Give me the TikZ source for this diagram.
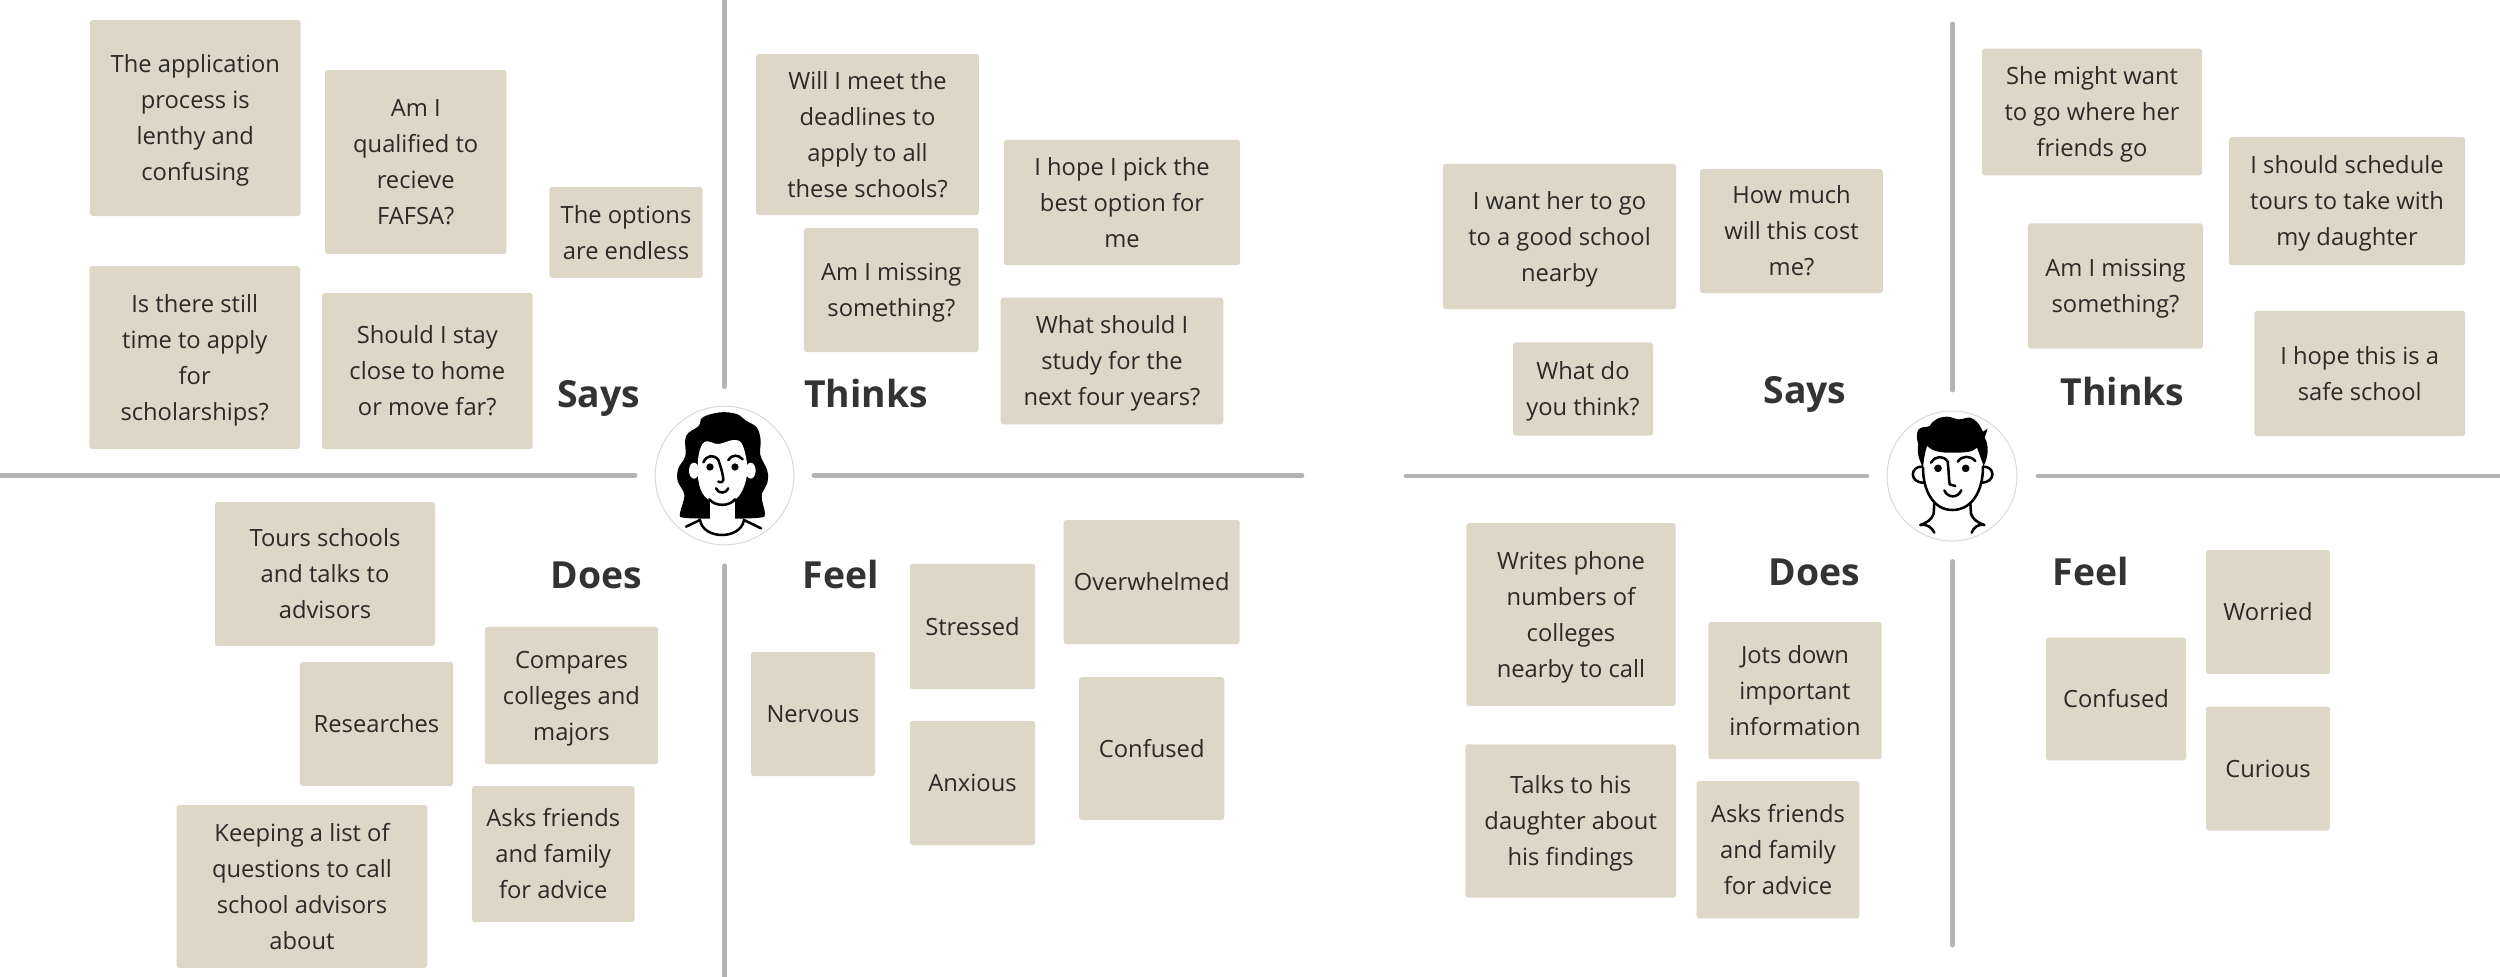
\documentclass[tikz,border=0pt]{standalone}
\usepackage{fontspec}
\setmainfont{Open Sans}
\definecolor{cardfill}{HTML}{DDD7C7}
\definecolor{cardtext}{HTML}{2B2A26}
\definecolor{axisgray}{HTML}{B4B4B4}
\definecolor{headtext}{HTML}{333333}
\newcommand{\firstline}{\rule{0pt}{21pt}}
\tikzset{every picture/.style={line width=0.75pt}}
\tikzset{
  card/.style={fill=cardfill,rounded corners=2pt,inner sep=0pt,align=center,text=cardtext,font=\fontsize{17.8}{27}\selectfont,execute at begin node=\firstline,execute at end node=\strut},
  heading/.style={anchor=base west,inner sep=0pt,text=headtext,font=\fontsize{28}{34}\selectfont\bfseries},
  axisline/.style={line width=3.6pt,line cap=round,color=axisgray},
  portrait/.style={circle,draw=black!15,fill=white,minimum size=#1,inner sep=0pt},
  inkline/.style={line width=1.9pt,line cap=round,line join=round,color=black}
}
\begin{document}
\begin{tikzpicture}[x=0.75pt,y=0.75pt,yscale=-1,xscale=1]
\useasboundingbox (0,0) rectangle (2500,976);

% axes, first board
\draw [axisline] (724.3,-5) -- (724.3,386.7) ;
\draw [axisline] (724.3,565.7) -- (724.3,981) ;
\draw [axisline] (-5,475.7) -- (635,475.7) ;
\draw [axisline] (814,475.7) -- (1302,475.7) ;
% axes, second board
\draw [axisline] (1952.5,24) -- (1952.5,390) ;
\draw [axisline] (1952.5,561.5) -- (1952.5,945) ;
\draw [axisline] (1406,476) -- (1867,476) ;
\draw [axisline] (2038,476) -- (2505,476) ;

% says, first board
\draw (195.3,118) node [card,minimum width=158pt,minimum height=147pt] (appProcess) {\firstline The application\\process is\\lenthy and\\confusing};
\draw (415.7,162) node [card,minimum width=136pt,minimum height=138pt] (amQualified) {\firstline Am I\\qualified to\\recieve\\FAFSA?};
\draw (626,232.5) node [card,minimum width=115pt,minimum height=68pt] (optionsEndless) {\firstline The options\\are endless};
\draw (194.7,357.5) node [card,minimum width=158pt,minimum height=137pt] (stillTime) {\firstline Is there still\\time to apply\\for\\scholarships?};
\draw (427.3,371) node [card,minimum width=158pt,minimum height=117pt] (stayClose) {\firstline Should I stay\\close to home\\or move far?};
\draw (556.6,407) node [heading] (saysA) {Says};

% thinks, first board
\draw (867.5,134.5) node [card,minimum width=167pt,minimum height=121pt] (meetDeadlines) {\firstline Will I meet the\\deadlines to\\apply to all\\these schools?};
\draw (1122,202.5) node [card,minimum width=177pt,minimum height=94pt] (pickBest) {\firstline I hope I pick the\\best option for\\me};
\draw (891.3,290) node [card,minimum width=131pt,minimum height=93pt] (missingA) {\firstline Am I missing\\something?};
\draw (1112,361) node [card,minimum width=167pt,minimum height=95pt] (whatStudy) {\firstline What should I\\study for the\\next four years?};
\draw (803.6,407) node [heading] (thinksA) {Thinks};

% does, first board
\draw (325,574) node [card,minimum width=165pt,minimum height=108pt] (toursSchools) {\firstline Tours schools\\and talks to\\advisors};
\draw (571.5,695.5) node [card,minimum width=130pt,minimum height=103pt] (comparesColleges) {\firstline Compares\\colleges and\\majors};
\draw (376.5,724) node [card,minimum width=115pt,minimum height=93pt] (researches) {Researches};
\draw (553.3,854) node [card,minimum width=122pt,minimum height=102pt] (asksA) {\firstline Asks friends\\and family\\for advice};
\draw (302,886.5) node [card,minimum width=188pt,minimum height=122pt] (keepingList) {\firstline Keeping a list of\\questions to call\\school advisors\\about};
\draw (550,588) node [heading] (doesA) {Does};

% feel, first board
\draw (972.5,626.5) node [card,minimum width=94pt,minimum height=94pt] (stressed) {Stressed};
\draw (1151.7,582) node [card,minimum width=132pt,minimum height=93pt] (overwhelmed) {Overwhelmed};
\draw (813,714) node [card,minimum width=93pt,minimum height=93pt] (nervous) {Nervous};
\draw (972.5,783) node [card,minimum width=94pt,minimum height=93pt] (anxious) {Anxious};
\draw (1151.7,748.5) node [card,minimum width=109pt,minimum height=107pt] (confusedA) {Confused};
\draw (802,588) node [heading] (feelA) {Feel};

% says, second board
\draw (1559.5,236.5) node [card,minimum width=175pt,minimum height=109pt] (goodSchool) {\firstline I want her to go\\to a good school\\nearby};
\draw (1791.5,231) node [card,minimum width=137pt,minimum height=93pt] (howMuch) {\firstline How much\\will this cost\\me?};
\draw (1583,389) node [card,minimum width=105pt,minimum height=70pt] (whatThink) {\firstline What do\\you think?};
\draw (1763,403) node [heading] (saysB) {Says};

% thinks, second board
\draw (2092,112) node [card,minimum width=165pt,minimum height=95pt] (friendsGo) {\firstline She might want\\to go where her\\friends go};
\draw (2347,201) node [card,minimum width=177pt,minimum height=96pt] (scheduleTours) {\firstline I should schedule\\tours to take with\\my daughter};
\draw (2115.5,286) node [card,minimum width=131pt,minimum height=94pt] (missingB) {\firstline Am I missing\\something?};
\draw (2359.7,373.5) node [card,minimum width=158pt,minimum height=94pt] (safeSchool) {\firstline I hope this is a\\safe school};
\draw (2060,405) node [heading] (thinksB) {Thinks};

% does, second board
\draw (1571,614.5) node [card,minimum width=157pt,minimum height=137pt] (writesNumbers) {\firstline Writes phone\\numbers of\\colleges\\nearby to call};
\draw (1795,690.5) node [card,minimum width=130pt,minimum height=103pt] (jotsDown) {\firstline Jots down\\important\\information};
\draw (1570.7,821) node [card,minimum width=158pt,minimum height=115pt] (talksDaughter) {\firstline Talks to his\\daughter about\\his findings};
\draw (1778,849.8) node [card,minimum width=122pt,minimum height=103pt] (asksB) {\firstline Asks friends\\and family\\for advice};
\draw (1768,585) node [heading] (doesB) {Does};

% feel, second board
\draw (2268,612) node [card,minimum width=93pt,minimum height=93pt] (worried) {Worried};
\draw (2116,699) node [card,minimum width=105pt,minimum height=92pt] (confusedB) {Confused};
\draw (2268,768.5) node [card,minimum width=93pt,minimum height=93pt] (curious) {Curious};
\draw (2052,585) node [heading] (feelB) {Feel};

% woman
\draw (724.5,475.5) node [portrait=104pt] (womanRing) {};
\begin{scope}[shift={(650,400)},scale=0.3333]
\fill [black] plot [smooth cycle,tension=0.6] coordinates {(210,37) (260,42) (288,62) (320,82) (332,120) (331,165) (352,212) (352,248) (335,288) (345,342) (328,353) (255,356) (178,356) (100,353) (90,340) (103,285) (83,243) (85,205) (106,168) (108,108) (146,78) (158,52)};
\fill [white] (180,290) rectangle (255,360);
\fill [white] (132,212) ellipse [x radius=15,y radius=24];
\fill [white] (302,212) ellipse [x radius=15,y radius=24];
\fill [white] plot [smooth cycle,tension=0.6] coordinates {(146,165) (165,125) (205,132) (250,120) (276,132) (291,190) (288,240) (265,290) (215,316) (165,290) (145,240)};
\fill [black] (180,201) circle [radius=11];
\fill [black] (255,201) circle [radius=11];
\draw [inkline] (178,298) .. controls (195,320) and (238,320) .. (255,298) ;
\draw [inkline] (160,187) .. controls (170,165) and (192,162) .. (205,180) .. controls (212,200) and (220,225) .. (220,240) .. controls (220,246) and (214,248) .. (205,245) ;
\draw [inkline] (235,180) .. controls (245,163) and (265,163) .. (278,178) ;
\draw [inkline] (198,265) .. controls (205,282) and (228,282) .. (235,265) ;
\draw [inkline] (108,380) -- (150,360) .. controls (160,420) and (272,420) .. (282,360) -- (333,385) ;
\end{scope}

% man
\draw (1952,476) node [portrait=97.5pt] (manRing) {};
\begin{scope}[shift={(1877,401)},scale=0.3333]
\fill [black] (125,85) .. controls (135,75) and (150,80) .. (158,75) .. controls (165,60) and (185,47) .. (210,47) .. controls (225,47) and (235,55) .. (245,55) .. controls (260,55) and (270,48) .. (280,50) .. controls (295,55) and (305,65) .. (318,92) -- (332,83) -- (323,110) .. controls (338,135) and (333,170) .. (320,195) -- (300,140) .. controls (285,155) and (265,155) .. (215,155) .. controls (190,155) and (165,150) .. (150,135) .. controls (143,155) and (140,180) .. (138,200) .. controls (128,180) and (118,155) .. (124,130) .. controls (118,110) and (118,95) .. (125,85) -- cycle ;
\draw [inkline] (135,197) .. controls (100,195) and (95,245) .. (140,245) ;
\draw [inkline] (318,197) .. controls (355,195) and (358,245) .. (312,245) ;
\draw [inkline] (138,200) .. controls (138,270) and (170,327) .. (226,327) .. controls (285,327) and (318,270) .. (318,197) ;
\draw [inkline] (172,305) -- (170,338) .. controls (165,355) and (150,365) .. (130,372) .. controls (150,368) and (165,380) .. (172,395) ;
\draw [inkline] (280,305) -- (282,338) .. controls (287,355) and (302,365) .. (322,372) .. controls (302,368) and (290,380) .. (284,395) ;
\fill [black] (183,202) circle [radius=11.5];
\fill [black] (266,202) circle [radius=11.5];
\draw [inkline] (162,185) .. controls (175,163) and (200,163) .. (212,182) .. controls (215,205) and (215,230) .. (218,250) -- (235,255) ;
\draw [inkline] (242,182) .. controls (255,163) and (280,163) .. (295,180) ;
\draw [inkline] (202,268) .. controls (212,292) and (243,292) .. (253,268) ;
\end{scope}

\end{tikzpicture}
\end{document}
